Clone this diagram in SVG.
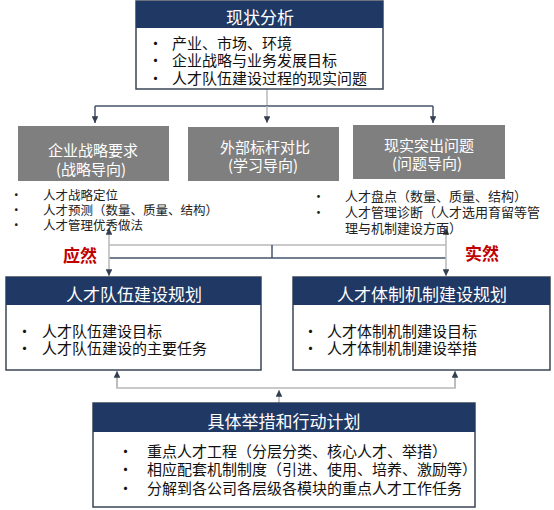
<svg xmlns="http://www.w3.org/2000/svg" width="554" height="510" viewBox="0 0 554 510">
<defs>
<style>
text{font-family:"Noto Sans CJK SC","Noto Sans",sans-serif;dominant-baseline:central}
.hdr{fill:#203864}
.body{fill:#fff;stroke:#3b4556;stroke-width:1.5}
.ht{fill:#fff;font-size:17px;text-anchor:middle}
.bt{fill:#111;font-size:15px}
.gb{fill:#7f7f7f}
.gt{fill:#fff;font-size:15px;text-anchor:middle}
.st{fill:#222;font-size:12.5px}
.red{fill:#c00000;font-size:17px;font-weight:bold;text-anchor:middle}
.dk{stroke:#44546a;stroke-width:1.5;fill:none}
.lt{stroke:#b8b8b8;stroke-width:1.5;fill:none}
</style>
<marker id="ah" viewBox="0 0 10 10" refX="10" refY="5" markerWidth="4.5" markerHeight="4.5" orient="auto" markerUnits="strokeWidth">
<path d="M0,0 L10,5 L0,10 Z" fill="#333f50"/>
</marker>
</defs>

<g id="connectors">
<line class="lt" x1="267" y1="89" x2="267" y2="106"/>
<line class="dk" x1="95" y1="106" x2="433" y2="106"/>
<line class="dk" x1="95" y1="106" x2="95" y2="123" marker-end="url(#ah)"/>
<line class="lt" x1="267" y1="106" x2="267" y2="123" marker-end="url(#ah)"/>
<line class="dk" x1="433" y1="106" x2="433" y2="123" marker-end="url(#ah)"/>

<line class="lt" x1="109" y1="245" x2="109" y2="228" marker-end="url(#ah)"/>
<line class="lt" x1="446" y1="245" x2="446" y2="228" marker-end="url(#ah)"/>
<line class="lt" x1="109" y1="245" x2="446" y2="245"/>
<line class="dk" x1="272" y1="245" x2="272" y2="258"/>
<line class="dk" x1="109" y1="258" x2="446" y2="258"/>
<line class="lt" x1="109" y1="245" x2="109" y2="258"/>
<line class="lt" x1="446" y1="245" x2="446" y2="258"/>
<line class="lt" x1="109" y1="258" x2="109" y2="276" marker-end="url(#ah)"/>
<line class="lt" x1="446" y1="258" x2="446" y2="276" marker-end="url(#ah)"/>

<polyline class="lt" points="117,371 117,388 455,388 455,371"/>
<line class="lt" x1="117" y1="388" x2="117" y2="371" marker-end="url(#ah)"/>
<line class="lt" x1="455" y1="388" x2="455" y2="371" marker-end="url(#ah)"/>
<line class="lt" x1="279" y1="403" x2="279" y2="390" marker-end="url(#ah)"/>
</g>

<g id="top">
<rect class="body" x="136" y="1" width="247" height="88"/>
<rect class="hdr" x="136" y="1" width="247" height="27"/>
<text class="ht" x="260" y="16">现状分析</text>
<text class="bt" x="148" y="42">•</text><text class="bt" x="172" y="42">产业、市场、环境</text>
<text class="bt" x="148" y="59.5">•</text><text class="bt" x="172" y="59.5">企业战略与业务发展目标</text>
<text class="bt" x="148" y="77">•</text><text class="bt" x="172" y="77">人才队伍建设过程的现实问题</text>
</g>

<g id="g1">
<rect class="gb" x="18" y="126" width="151" height="55"/>
<text class="gt" x="93" y="149">企业战略要求</text>
<text class="gt" x="91" y="168">(战略导向)</text>
</g>
<g id="g2">
<rect class="gb" x="188" y="127" width="151" height="54"/>
<text class="gt" x="265" y="146">外部标杆对比</text>
<text class="gt" x="263" y="164.5">(学习导向)</text>
</g>
<g id="g3">
<rect class="gb" x="353" y="125" width="152" height="54"/>
<text class="gt" x="429" y="144">现实突出问题</text>
<text class="gt" x="427" y="162.5">(问题导向)</text>
</g>

<g id="list-left">
<text class="st" x="10" y="194">•</text><text class="st" x="43" y="194">人才战略定位</text>
<text class="st" x="10" y="209">•</text><text class="st" x="43" y="209">人才预测（数量、质量、结构）</text>
<text class="st" x="10" y="224">•</text><text class="st" x="43" y="224">人才管理优秀做法</text>
</g>
<g id="list-right">
<text class="st" x="312" y="195" style="font-size:13px">•</text><text class="st" x="345" y="195" style="font-size:13px">人才盘点（数量、质量、结构）</text>
<text class="st" x="312" y="211" style="font-size:13px">•</text><text class="st" x="345" y="211" style="font-size:13px">人才管理诊断（人才选用育留等管</text>
<text class="st" x="345" y="227" style="font-size:13px">理与机制建设方面）</text>
</g>

<g id="label-yingran"><text class="red" x="80" y="254">应然</text></g>
<g id="label-shiran"><text class="red" x="482" y="252">实然</text></g>

<g id="plan-left">
<rect class="body" x="6" y="277" width="255" height="93"/>
<rect class="hdr" x="6" y="277" width="255" height="28"/>
<text class="ht" x="134" y="293">人才队伍建设规划</text>
<text class="bt" x="17" y="330">•</text><text class="bt" x="42" y="330">人才队伍建设目标</text>
<text class="bt" x="17" y="347.5">•</text><text class="bt" x="42" y="347.5">人才队伍建设的主要任务</text>
</g>

<g id="plan-right">
<rect class="body" x="293" y="277" width="257" height="93"/>
<rect class="hdr" x="293" y="277" width="257" height="28"/>
<text class="ht" x="422" y="293">人才体制机制建设规划</text>
<text class="bt" x="303" y="330">•</text><text class="bt" x="327" y="330">人才体制机制建设目标</text>
<text class="bt" x="303" y="347.5">•</text><text class="bt" x="327" y="347.5">人才体制机制建设举措</text>
</g>

<g id="action">
<rect class="body" x="93" y="403" width="382" height="104"/>
<rect class="hdr" x="93" y="403" width="382" height="29"/>
<text class="ht" x="284" y="420">具体举措和行动计划</text>
<text class="bt" x="118" y="450">•</text><text class="bt" x="147" y="450">重点人才工程（分层分类、核心人才、举措）</text>
<text class="bt" x="118" y="468">•</text><text class="bt" x="147" y="468">相应配套机制制度（引进、使用、培养、激励等）</text>
<text class="bt" x="118" y="487">•</text><text class="bt" x="147" y="487">分解到各公司各层级各模块的重点人才工作任务</text>
</g>
</svg>
